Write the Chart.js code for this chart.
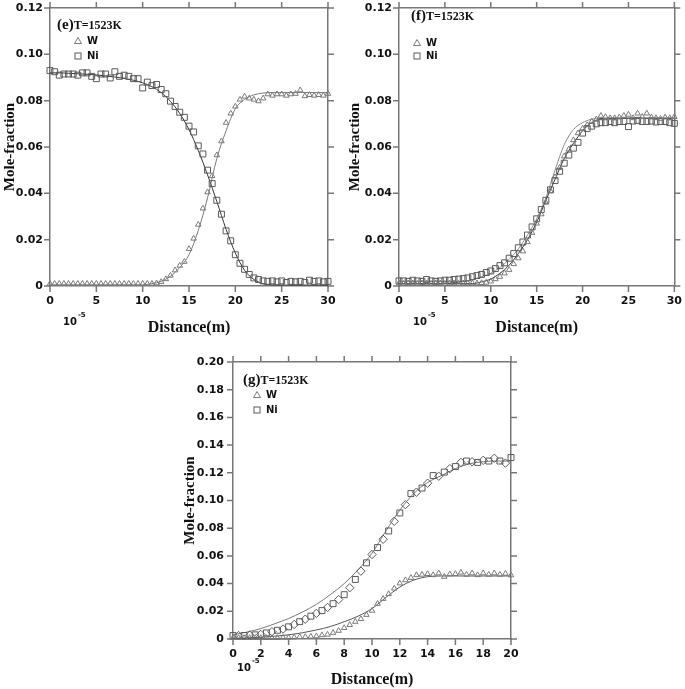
<!DOCTYPE html>
<html>
<head>
<meta charset="utf-8">
<script src="https://cdn.jsdelivr.net/npm/chart.js@4.4.1/dist/chart.umd.min.js"></script>
<style>
  html, body { margin: 0; padding: 0; background: #fff; }
  body { width: 685px; height: 689px; position: relative; overflow: hidden; }
  canvas { position: absolute; }
</style>
</head>
<body>
<canvas id="cE" width="345" height="340" style="left:0;top:0;width:345px;height:340px"></canvas>
<canvas id="cF" width="340" height="340" style="left:345px;top:0;width:340px;height:340px"></canvas>
<canvas id="cG" width="345" height="339" style="left:180px;top:350px;width:345px;height:339px"></canvas>
<script>
// ─── Data (Distance in 1e-5 m, mole fraction) ────────────────────────────────
const distEF = [0,0.5,1,1.5,2,2.5,3,3.5,4,4.5,5,5.5,6,6.5,7,7.5,8,8.5,9,9.5,10,10.5,11,11.5,12,12.5,13,13.5,14,14.5,15,15.5,16,16.5,17,17.5,18,18.5,19,19.5,20,20.5,21,21.5,22,22.5,23,23.5,24,24.5,25,25.5,26,26.5,27,27.5,28,28.5,29,29.5,30];
const distG  = [0,0.4,0.8,1.2,1.6,2,2.4,2.8,3.2,3.6,4,4.4,4.8,5.2,5.6,6,6.4,6.8,7.2,7.6,8,8.4,8.8,9.2,9.6,10,10.4,10.8,11.2,11.6,12,12.4,12.8,13.2,13.6,14,14.4,14.8,15.2,15.6,16,16.4,16.8,17.2,17.6,18,18.4,18.8,19.2,19.6,20];
const fitDist30 = [0,1,2,3,4,5,6,7,8,9,10,11,12,13,14,15,16,17,18,19,20,21,22,23,24,25,26,27,28,29,30];
const fitDist20 = [0,1,2,3,4,5,6,7,8,9,10,11,12,13,14,15,16,17,18,19,20];
const ticksX30 = [0,5,10,15,20,25,30];
const ticksX20 = [0,2,4,6,8,10,12,14,16,18,20];
const ticksY12 = [0,0.02,0.04,0.06,0.08,0.10,0.12];
const ticksY20 = [0,0.02,0.04,0.06,0.08,0.10,0.12,0.14,0.16,0.18,0.20];

// (e)
const wE  = [0.001,0.001,0.001,0.001,0.001,0.001,0.001,0.001,0.001,0.001,0.001,0.001,0.001,0.001,0.001,0.001,0.001,0.001,0.001,0.001,0.001,0.001,0.001,
  0.0012,0.0018,0.003,0.0045,0.0068,0.0088,0.0105,0.016,0.0205,0.0265,0.0335,0.0405,0.0475,0.0565,0.0625,0.0705,0.0745,0.0775,0.0805,0.0818,0.081,0.0805,0.0798,0.081,0.0828,0.0822,0.0828,0.0828,0.0822,0.0828,0.083,0.0845,0.082,0.0825,0.0822,0.0825,0.0822,0.083];
const niE = [0.093,0.0925,0.091,0.0915,0.0915,0.0915,0.091,0.092,0.092,0.0905,0.0895,0.0915,0.0915,0.0898,0.0925,0.0905,0.091,0.0905,0.0895,0.0895,0.0855,
  0.088,0.0865,0.087,0.0848,0.083,0.0798,0.0775,0.075,0.0728,0.069,0.0665,0.0605,0.057,0.050,0.0442,0.037,0.031,0.0238,0.0195,0.0135,
  0.0098,0.0072,0.005,0.0035,0.0028,0.0022,0.002,0.0022,0.0018,0.0022,0.0015,0.002,0.0018,0.002,0.0015,0.0025,0.002,0.0022,0.0018,0.002];
const fitWE  = [0.0005,0.0005,0.0005,0.0005,0.0005,0.0005,0.0005,0.0005,0.0005,0.0005,0.0005,0.001,0.002,0.0042,0.008,0.0135,0.024,0.038,0.055,0.067,0.0765,0.0805,0.0825,0.0833,0.0835,0.0835,0.0835,0.0835,0.0835,0.0835,0.0835];
const fitNiE = [0.092,0.092,0.0918,0.0916,0.0914,0.0911,0.0907,0.0902,0.0896,0.0888,0.0877,0.086,0.0835,0.0797,0.0745,0.0675,0.0585,0.048,0.0365,0.0245,0.0142,0.0068,0.0028,0.001,0.0005,0.0004,0.0004,0.0004,0.0004,0.0004,0.0004];

// (f)
const wF  = [0.0012,0.001,0.0012,0.0012,0.001,0.0012,0.0012,0.001,0.0012,0.0012,0.001,0.0012,0.0012,0.001,0.0012,0.0012,0.0012,0.0012,0.0013,
  0.0015,0.002,0.003,0.004,0.0055,0.007,0.0095,0.012,0.015,0.019,0.023,0.027,0.031,0.036,0.041,0.047,0.051,0.056,0.059,0.063,0.066,0.068,
  0.0695,0.071,0.072,0.0735,0.073,0.0725,0.0725,0.0728,0.0735,0.074,0.0725,0.0745,0.073,0.0745,0.0728,0.0725,0.0722,0.0728,0.0725,0.073];
const niF = [0.0022,0.0022,0.002,0.0025,0.0022,0.002,0.0028,0.0022,0.002,0.0022,0.0025,
  0.0025,0.0028,0.003,0.0032,0.0035,0.004,0.0045,0.005,0.0058,0.0065,
  0.0075,0.0088,0.01,0.012,0.014,0.0165,0.019,0.022,0.0255,0.029,0.033,0.037,0.0415,0.0455,0.0495,0.053,0.0565,0.0595,0.062,0.066,
  0.068,0.069,0.070,0.0705,0.0705,0.071,0.0705,0.071,0.071,0.0688,0.0712,0.0715,0.071,0.071,0.0712,0.0708,0.071,0.071,0.0705,0.0702];
const fitWF  = [0.001,0.001,0.001,0.001,0.001,0.001,0.001,0.001,0.001,0.0018,0.003,0.0055,0.009,0.014,0.02,0.0275,0.037,0.046,0.055,0.0615,0.067,0.0705,0.0722,0.0725,0.0725,0.0725,0.0725,0.0725,0.0725,0.0725,0.0725];
const fitNiF = [0.002,0.002,0.002,0.002,0.002,0.002,0.002,0.002,0.0028,0.004,0.0055,0.008,0.0115,0.016,0.022,0.029,0.038,0.050,0.061,0.0675,0.0705,0.072,0.0723,0.0723,0.0723,0.0723,0.0723,0.0723,0.0723,0.0723,0.0723];

// (g)
const wG  = [0.0008,0.0008,0.0008,0.0008,0.0008,0.0008,0.0008,0.0008,0.0008,0.001,
  0.001,0.0012,0.0015,0.0015,0.0018,0.002,0.0028,0.0032,0.0045,0.006,
  0.008,0.0102,0.0125,0.0145,0.0175,0.0205,0.0255,0.029,0.0325,0.0365,
  0.0402,0.0425,0.0442,0.0462,0.0465,0.047,0.0462,0.0475,0.045,0.0468,
  0.047,0.048,0.0465,0.0475,0.0462,0.0475,0.0465,0.0475,0.0465,0.0472,
  0.046];
const niG = [0.0025,0.0025,0.0025,0.0028,0.003,0.0033,0.0044,0.0053,0.0063,0.0072,
  0.0088,0.0105,0.0125,0.0143,0.0165,0.0185,0.0205,0.0228,0.0255,0.0285,
  0.032,0.037,0.043,0.049,0.055,0.061,0.066,0.072,0.078,0.085,
  0.091,0.097,0.105,0.106,0.109,0.1125,0.118,0.1175,0.1205,0.123,
  0.1245,0.1275,0.1285,0.128,0.1275,0.129,0.1285,0.1305,0.1285,0.127,
  0.131];
const fitWG  = [0.0005,0.0008,0.0012,0.002,0.003,0.0045,0.0065,0.009,0.0125,0.0165,0.022,0.030,0.0375,0.0425,0.045,0.0455,0.0455,0.0455,0.0455,0.0455,0.0455];
const fitNiG = [0.003,0.005,0.0075,0.011,0.0148,0.0195,0.025,0.032,0.040,0.050,0.062,0.078,0.093,0.105,0.113,0.118,0.123,0.1265,0.128,0.1285,0.1285];

// ─── Styling ─────────────────────────────────────────────────────────────────
const AXIS = '#777';
const INK  = '#111';
const TICK_FONT = { family: 'DejaVu Sans', size: 11, weight: 'bold' };
const SERIF = '"Liberation Serif", "Times New Roman", serif';
const TICK_LEN = 6;

const pts = (xs, ys) => xs.map((x, i) => ({ x, y: ys[i] }));
const fixW = w => s => { s.width = w; };
const fixH = h => s => { s.height = h; };

function markers(data, style, color, radius) {
  return { data, showLine: false, pointStyle: style, pointRadius: radius, pointBorderWidth: 1,
           borderColor: color, backgroundColor: 'rgba(0,0,0,0)', clip: false };
}
function curve(data, color) {
  return { data, showLine: true, pointRadius: 0, borderWidth: 1, borderColor: color,
           cubicInterpolationMode: 'monotone', fill: false };
}

// outward tick marks on all four sides, at the tick values run through the chart's scales
const frameTicks = {
  id: 'frameTicks',
  afterDraw(chart, args, o) {
    const { ctx, chartArea: a, scales } = chart;
    ctx.save();
    ctx.strokeStyle = AXIS;
    ctx.lineWidth = 1.5;
    for (const v of o.xs) {
      const p = scales.x.getPixelForValue(v);
      ctx.beginPath();
      ctx.moveTo(p, a.bottom); ctx.lineTo(p, a.bottom + TICK_LEN);
      ctx.moveTo(p, a.top);    ctx.lineTo(p, a.top - TICK_LEN);
      ctx.stroke();
    }
    for (const v of o.ys) {
      const p = scales.y.getPixelForValue(v);
      ctx.beginPath();
      ctx.moveTo(a.left, p);  ctx.lineTo(a.left - TICK_LEN, p);
      ctx.moveTo(a.right, p); ctx.lineTo(a.right + TICK_LEN, p);
      ctx.stroke();
    }
    ctx.restore();
  }
};

// panel label, legend and the 1e-5 multiplier
const panelDecor = {
  id: 'panelDecor',
  afterDraw(chart, args, o) {
    const { ctx, chartArea: a } = chart;
    ctx.save();
    ctx.fillStyle = INK;
    ctx.textAlign = 'left';
    ctx.textBaseline = 'alphabetic';
    const lx = a.left + o.label[0], ly = a.top + o.label[1];
    ctx.font = 'bold 15px ' + SERIF;
    ctx.fillText(o.tag, lx, ly);
    const tw = ctx.measureText(o.tag).width;
    ctx.font = 'bold 12px ' + SERIF;
    ctx.fillText('T=1523K', lx + tw, ly);

    // legend
    const mx = a.left + o.legend[0];
    const ty = a.top + o.legend[1], sy = a.top + o.legend[2];
    ctx.lineWidth = 1;
    ctx.strokeStyle = '#7a7a7a';
    ctx.beginPath();
    ctx.moveTo(mx, ty - 3.5); ctx.lineTo(mx + 3.5, ty + 2.5); ctx.lineTo(mx - 3.5, ty + 2.5); ctx.closePath();
    ctx.stroke();
    ctx.strokeStyle = '#5a5a5a';
    ctx.strokeRect(mx - 3, sy - 3, 6, 6);
    ctx.font = 'bold 10px "DejaVu Sans"';
    ctx.textBaseline = 'middle';
    ctx.fillText('W', mx + 9, ty);
    ctx.fillText('Ni', mx + 9, sy);

    // exponent
    const ex = a.left + o.exp[0], ey = a.bottom + o.exp[1];
    ctx.font = 'bold 10px "DejaVu Sans"';
    ctx.fillText('10', ex, ey);
    const ew = ctx.measureText('10').width;
    ctx.font = 'bold 7px "DejaVu Sans"';
    ctx.fillText('-5', ex + ew + 1, ey - 7);
    ctx.restore();
  }
};

function buildPanel(id, p) {
  const el = document.getElementById(id);
  const tickFmt = v => (v === 0 ? '0' : v.toFixed(2));
  const frame = { display: true, color: AXIS, width: 1.5 };
  const noGrid = { display: false, drawOnChartArea: false, drawTicks: true, tickLength: TICK_LEN };
  const hidden = { color: 'rgba(0,0,0,0)', font: TICK_FONT, padding: 0 };
  return new Chart(el, {
    type: 'scatter',
    data: { datasets: p.datasets },
    options: {
      responsive: false,
      animation: false,
      devicePixelRatio: 1,
      layout: { padding: 0 },
      plugins: { legend: { display: false }, tooltip: { enabled: false },
                 panelDecor: p.decor, frameTicks: { xs: p.xTicks, ys: p.yTicks } },
      scales: {
        x: {
          type: 'linear', position: 'bottom', min: 0, max: p.xMax,
          ticks: { stepSize: p.xStep, color: INK, font: TICK_FONT, padding: 3, maxRotation: 0 },
          grid: noGrid, border: frame,
          title: { display: true, text: 'Distance(m)', color: INK,
                   font: { family: 'Liberation Serif', size: 16, weight: 'bold' },
                   padding: { top: 0, bottom: p.xTitlePad } },
          afterFit: fixH(p.bottom),
        },
        x2: {
          type: 'linear', position: 'top', min: 0, max: p.xMax,
          ticks: { stepSize: p.xStep, ...hidden }, grid: noGrid, border: frame,
          afterFit: fixH(p.top),
        },
        y: {
          type: 'linear', position: 'left', min: 0, max: p.yMax,
          ticks: { stepSize: p.yStep, color: INK, font: TICK_FONT, padding: p.yTickPad, callback: tickFmt },
          grid: noGrid, border: frame,
          title: { display: true, text: 'Mole-fraction', color: INK,
                   font: { family: 'Liberation Serif', size: 15, weight: 'bold' },
                   padding: { top: 1, bottom: 0 } },
          afterFit: fixW(p.left),
        },
        y2: {
          type: 'linear', position: 'right', min: 0, max: p.yMax,
          ticks: { stepSize: p.yStep, ...hidden, callback: tickFmt }, grid: noGrid, border: frame,
          afterFit: fixW(p.right),
        },
      },
    },
    plugins: [frameTicks, panelDecor],
  });
}

buildPanel('cE', {
  xMax: 30, xStep: 5, yMax: 0.12, yStep: 0.02, xTicks: ticksX30, yTicks: ticksY12,
  left: 50, right: 17, top: 8, bottom: 54, xTitlePad: 3, yTickPad: 1,
  decor: { tag: '(e)', label: [7, 21], legend: [28, 33, 48], exp: [13, 36] },
  datasets: [
    markers(pts(distEF, wE), 'triangle', '#7a7a7a', 3.2),
    markers(pts(distEF, niE), 'rect', '#5a5a5a', 4.2),
    curve(pts(fitDist30, fitWE), '#7a7a7a'),
    curve(pts(fitDist30, fitNiE), '#333'),
  ],
});

buildPanel('cF', {
  xMax: 30, xStep: 5, yMax: 0.12, yStep: 0.02, xTicks: ticksX30, yTicks: ticksY12,
  left: 54, right: 9, top: 8, bottom: 54, xTitlePad: 3, yTickPad: 1,
  decor: { tag: '(f)', label: [12, 12], legend: [18, 35, 48], exp: [14, 36] },
  datasets: [
    markers(pts(distEF, wF), 'triangle', '#7a7a7a', 3.2),
    markers(pts(distEF, niF), 'rect', '#5a5a5a', 4.2),
    curve(pts(fitDist30, fitWF), '#333'),
    curve(pts(fitDist30, fitNiF), '#8a8a8a'),
  ],
});

buildPanel('cG', {
  xMax: 20, xStep: 2, yMax: 0.2, yStep: 0.02, xTicks: ticksX20, yTicks: ticksY20,
  left: 53, right: 14, top: 12, bottom: 50, xTitlePad: 0, yTickPad: 3,
  decor: { tag: '(g)', label: [10, 22], legend: [24, 33, 48], exp: [4, 29] },
  datasets: [
    markers(pts(distG, wG), 'triangle', '#7a7a7a', 3.2),
    { ...markers(pts(distG, niG), 'rect', '#5a5a5a', 4.2),
      pointStyle: c => (c.dataIndex % 2 ? 'rectRot' : 'rect') },
    curve(pts(fitDist20, fitWG), '#555'),
    curve(pts(fitDist20, fitNiG), '#777'),
  ],
});
</script>
</body>
</html>
